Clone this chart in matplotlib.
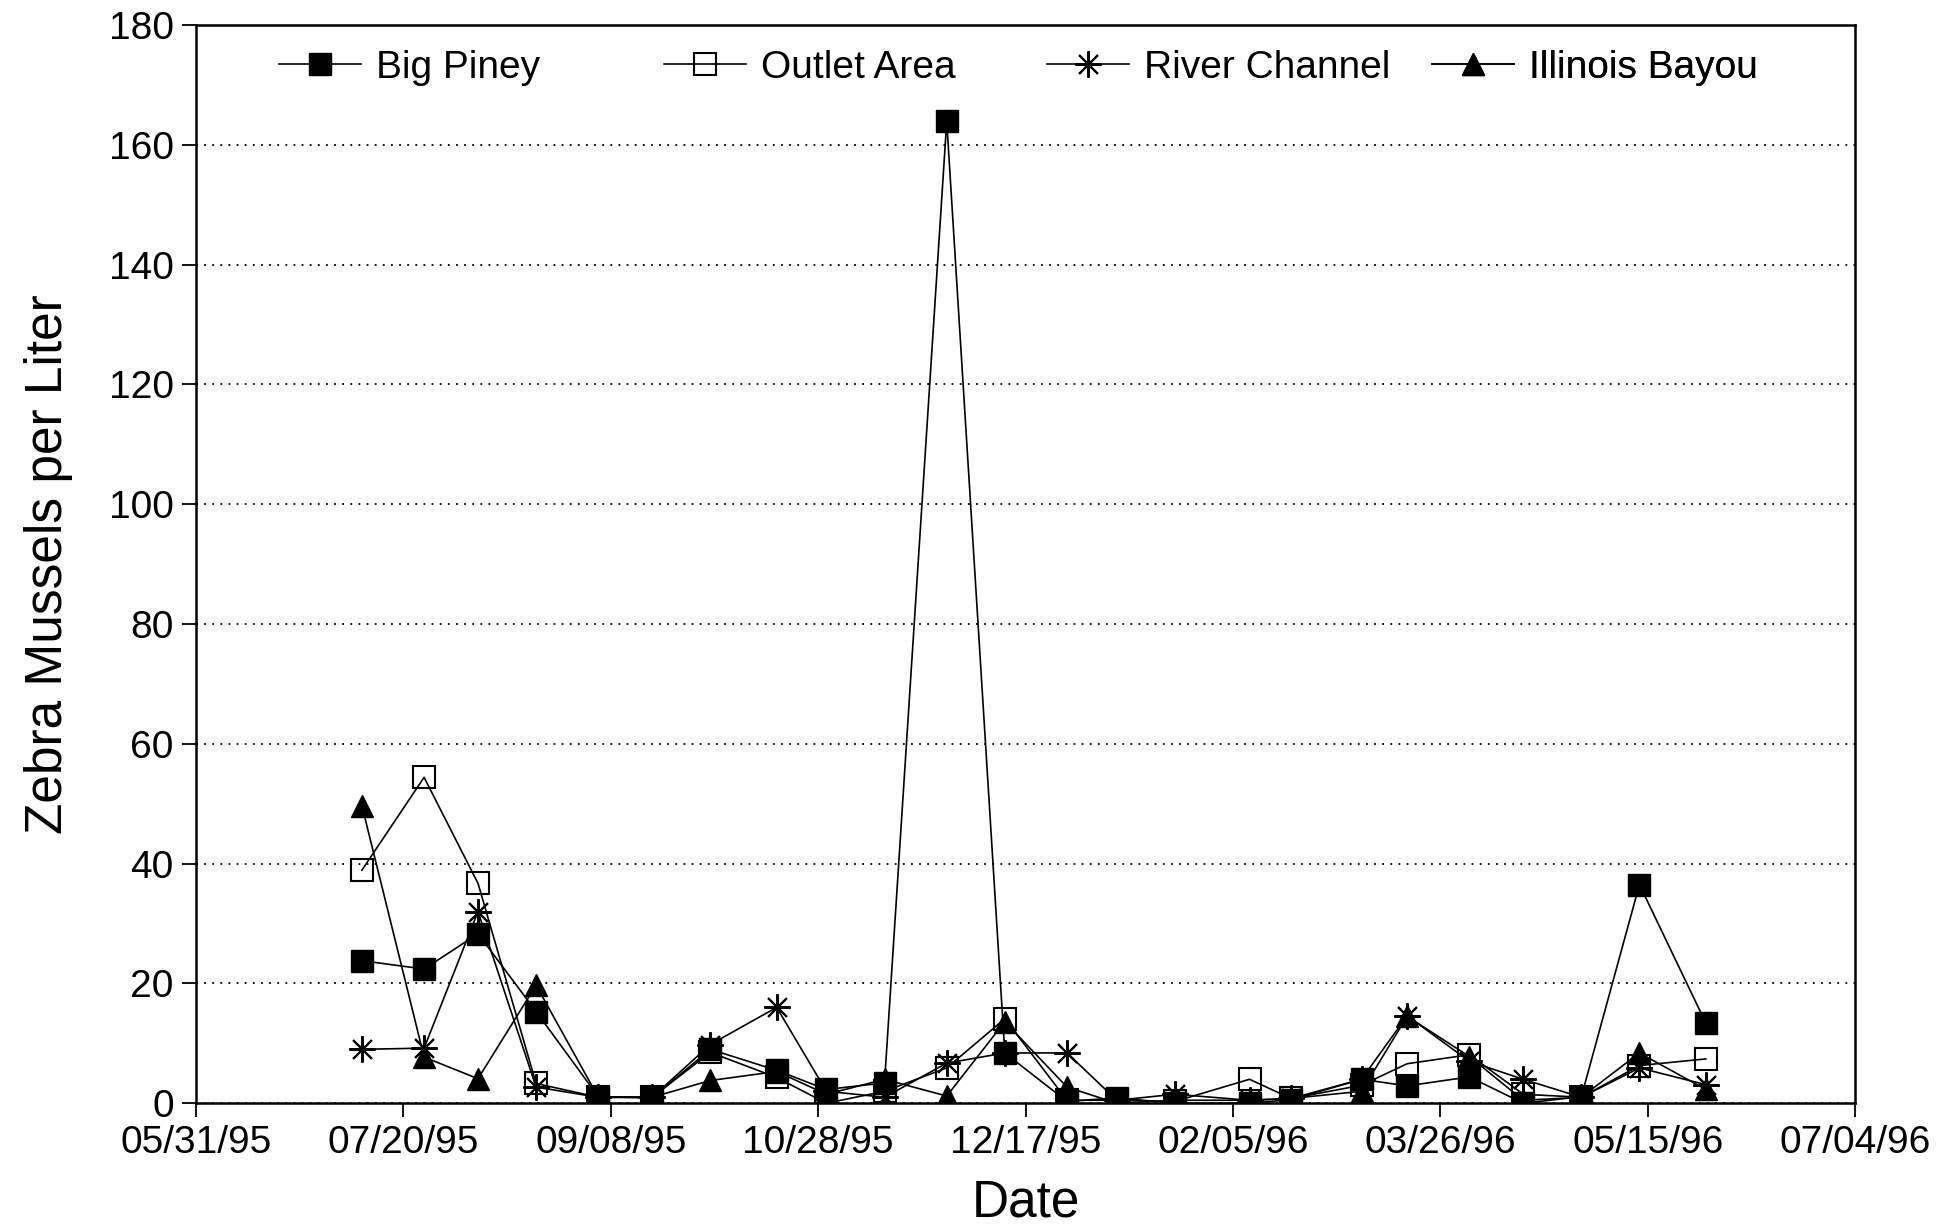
import matplotlib
matplotlib.use("Agg")
import matplotlib.pyplot as plt
import matplotlib.dates as mdates
import numpy as np

plt.rcParams['font.family'] = ['Liberation Sans', 'DejaVu Sans']

dates = ["1995-07-10", "1995-07-25", "1995-08-07", "1995-08-21", "1995-09-05",
         "1995-09-18", "1995-10-02", "1995-10-18", "1995-10-30", "1995-11-13",
         "1995-11-28", "1995-12-12", "1995-12-27", "1996-01-08", "1996-01-22",
         "1996-02-09", "1996-02-19", "1996-03-07", "1996-03-18", "1996-04-02",
         "1996-04-15", "1996-04-29", "1996-05-13", "1996-05-29"]

big_piney = [23.8, 22.4, 28.3, 15.3, 1.1, 0.9, 9.0, 5.5, 2.3, 3.4, 163.9, 8.4,
             0.3, 0.9, 0.0, 0.0, 0.6, 4.0, 2.9, 4.4, 0.0, 1.1, 36.5, 13.4]
outlet_area = [38.9, 54.4, 36.7, 3.3, 1.0, 1.0, 8.5, 4.3, 0.0, 2.0, 5.9, 14.1,
               0.5, 0.5, 0.3, 4.0, 0.8, 3.0, 6.6, 8.1, 1.5, 1.0, 6.3, 7.4]
river_channel = [9.0, 9.2, 32.0, 2.7, 1.0, 1.0, 9.8, 16.0, 2.0, 1.0, 6.7, 8.4,
                 8.4, 0.5, 1.5, 0.5, 0.8, 4.0, 14.6, 7.0, 4.0, 1.0, 5.9, 3.1]
illinois_bayou = [49.7, 7.7, 4.1, 19.7, 1.0, 1.0, 3.8, 5.3, 1.5, 4.0, 1.2, 13.6,
                  2.7, 0.0, 0.5, 0.5, 0.8, 2.0, 14.5, 7.8, 0.5, 1.0, 8.4, 2.3]

tick_dates = ["1995-05-31", "1995-07-20", "1995-09-08", "1995-10-28", "1995-12-17",
              "1996-02-05", "1996-03-26", "1996-05-15", "1996-07-04"]

x = np.array(dates, dtype="datetime64[D]")
ticks = np.array(tick_dates, dtype="datetime64[D]")

fig = plt.figure(figsize=(19.46, 12.32), dpi=100)
ax = fig.add_axes([0.1007, 0.1045, 0.8526, 0.8753])

lw = 1.2
ms = 16
series = [
    ("Big Piney", big_piney, dict(marker="s", mfc="black", mec="black")),
    ("Outlet Area", outlet_area, dict(marker="s", mfc="none", mec="black", mew=1.5)),
    ("River Channel", river_channel, dict(marker=(8, 2, 0), mec="black", mew=1.5, ms=19)),
    ("Illinois Bayou", illinois_bayou, dict(marker="^", mfc="black", mec="black")),
]

handles = []
for name, vals, style in series:
    kw = dict(color="black", lw=lw, ms=ms)
    kw.update(style)
    h, = ax.plot(x, vals, label=name, **kw)
    handles.append(h)

ax.set_xlim(ticks[0], ticks[-1])
ax.set_ylim(0, 180)
ax.set_xticks(ticks)
ax.xaxis.set_major_formatter(mdates.DateFormatter("%m/%d/%y"))
ax.set_yticks(np.arange(0, 181, 20))

ax.yaxis.grid(True, linestyle=(0, (1, 3.5)), color="black", lw=1.3)
ax.set_axisbelow(True)

for s in ax.spines.values():
    s.set_linewidth(1.8)

ax.tick_params(axis="both", direction="out", length=10, width=1.3,
               labelsize=28, pad=6, colors="black")

ax.set_xlabel("Date", fontsize=37, labelpad=12)
ax.set_ylabel("Zebra Mussels per Liter", fontsize=37, labelpad=26)

# one legend per entry, spaced like the original
legend_x = [0.050, 0.282, 0.513, 0.745]
for h, lx in zip(handles, legend_x):
    leg = ax.legend(handles=[h], loc="center left", bbox_to_anchor=(lx, 0.96),
                    frameon=False, fontsize=28, handlelength=2.1,
                    handletextpad=0.4, borderpad=0, borderaxespad=0,
                    numpoints=1)
    ax.add_artist(leg)

fig.savefig("out.png", dpi=100, facecolor="white")
